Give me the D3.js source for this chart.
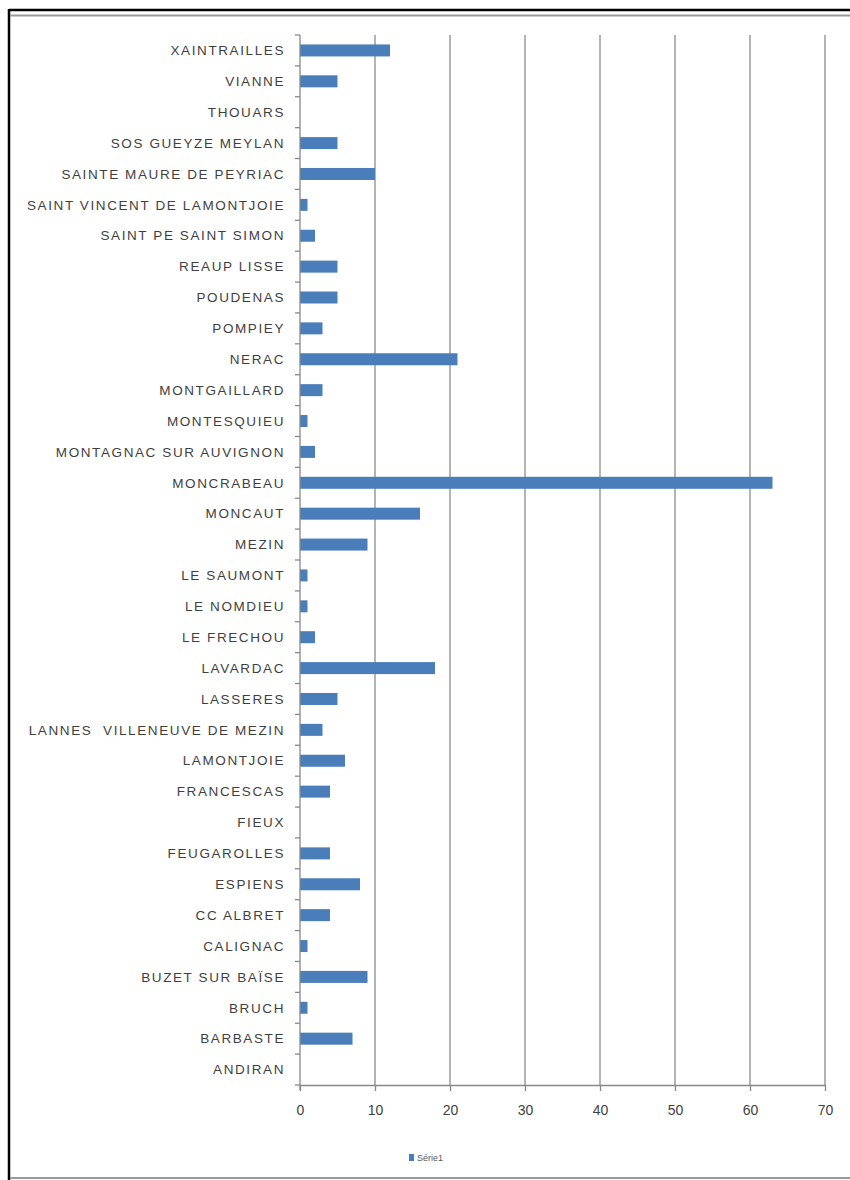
<!DOCTYPE html>
<html>
<head>
<meta charset="utf-8">
<script src="https://cdn.jsdelivr.net/npm/d3@7"></script>
<style>
  html, body { margin: 0; padding: 0; background: #fff; }
  svg { display: block; }
</style>
</head>
<body>
<script>
const categories = [
  "XAINTRAILLES", "VIANNE", "THOUARS", "SOS GUEYZE MEYLAN", "SAINTE MAURE DE PEYRIAC",
  "SAINT VINCENT DE LAMONTJOIE", "SAINT PE SAINT SIMON", "REAUP LISSE", "POUDENAS", "POMPIEY",
  "NERAC", "MONTGAILLARD", "MONTESQUIEU", "MONTAGNAC SUR AUVIGNON", "MONCRABEAU",
  "MONCAUT", "MEZIN", "LE SAUMONT", "LE NOMDIEU", "LE FRECHOU",
  "LAVARDAC", "LASSERES", "LANNES  VILLENEUVE DE MEZIN", "LAMONTJOIE", "FRANCESCAS",
  "FIEUX", "FEUGAROLLES", "ESPIENS", "CC ALBRET", "CALIGNAC",
  "BUZET SUR BAÏSE", "BRUCH", "BARBASTE", "ANDIRAN"
];
const values = [
  12, 5, 0, 5, 10,
  1, 2, 5, 5, 3,
  21, 3, 1, 2, 63,
  16, 9, 1, 1, 2,
  18, 5, 3, 6, 4,
  0, 4, 8, 4, 1,
  9, 1, 7, 0
];
const xTicks = [0, 10, 20, 30, 40, 50, 60, 70];
const seriesName = "Série1";

(function () {
const W = 850, H = 1180;
const svg = d3.select("body").append("svg").attr("width", W).attr("height", H);

// outer frame
svg.append("line").attr("x1", 9).attr("x2", W).attr("y1", 10).attr("y2", 10).attr("stroke", "#000").attr("stroke-width", 2.5);
svg.append("line").attr("x1", 9).attr("x2", 9).attr("y1", 9).attr("y2", H).attr("stroke", "#000").attr("stroke-width", 2.5);
svg.append("line").attr("x1", 10).attr("x2", W).attr("y1", 15.5).attr("y2", 15.5).attr("stroke", "#9a9a9a").attr("stroke-width", 2);
svg.append("line").attr("x1", 10).attr("x2", W).attr("y1", 1178).attr("y2", 1178).attr("stroke", "#9a9a9a").attr("stroke-width", 2);

const pLeft = 300, pRight = 825, pTop = 35, pBottom = 1085;
const x = d3.scaleLinear().domain([0, 70]).range([pLeft, pRight]);
const yb = d3.scaleBand().domain(categories).range([pTop, pBottom]);

// gridlines
svg.append("g").selectAll("line").data(xTicks.filter(d => d > 0)).join("line")
  .attr("x1", d => x(d)).attr("x2", d => x(d))
  .attr("y1", pTop).attr("y2", pBottom)
  .attr("stroke", "#8c8c8c").attr("stroke-width", 1.3);

// bars
svg.append("g").selectAll("rect").data(categories).join("rect")
  .attr("x", x(0))
  .attr("y", d => yb(d) + yb.bandwidth() / 2 - 6)
  .attr("width", (d, i) => x(values[i]) - x(0))
  .attr("height", 12)
  .attr("fill", "#4a7ebb");

// y axis
const yAxis = svg.append("g").attr("transform", `translate(${pLeft},0)`);
yAxis.append("line").attr("x1", 0).attr("x2", 0).attr("y1", pTop).attr("y2", pBottom + 5).attr("stroke", "#888").attr("stroke-width", 1.3);
const boundaries = categories.map(c => yb(c)).concat([pBottom]);
yAxis.selectAll("line.tk").data(boundaries).join("line").attr("class", "tk")
  .attr("x1", -5).attr("x2", 0).attr("y1", d => d).attr("y2", d => d)
  .attr("stroke", "#888").attr("stroke-width", 1.3);
yAxis.selectAll("text").data(categories).join("text")
  .attr("x", -15)
  .attr("y", d => yb(d) + yb.bandwidth() / 2)
  .attr("dy", "0.35em")
  .attr("text-anchor", "end")
  .attr("font-family", "Liberation Sans, Arial, sans-serif")
  .attr("font-size", 13.5)
  .attr("letter-spacing", 1.6)
  .style("white-space", "pre")
  .attr("fill", "#3f3f3f")
  .text(d => d);

// x axis
const xAxis = d3.axisBottom(x).tickValues(xTicks).tickSize(6).tickSizeOuter(0);
const gx = svg.append("g").attr("transform", `translate(0,${pBottom})`).call(xAxis);
gx.select(".domain").attr("stroke", "#888").attr("stroke-width", 1.3);
gx.selectAll(".tick line").attr("stroke", "#888").attr("stroke-width", 1.3);
gx.selectAll(".tick text")
  .attr("y", 20)
  .attr("font-family", "Liberation Sans, Arial, sans-serif")
  .attr("font-size", 14)
  .attr("fill", "#3f3f3f");

// legend
const lg = svg.append("g").attr("transform", "translate(409,1158)");
lg.append("rect").attr("x", 0).attr("y", -4).attr("width", 5).attr("height", 7).attr("fill", "#4a7ebb");
lg.append("text").attr("x", 8).attr("y", 0).attr("dy", "0.35em")
  .attr("font-family", "Liberation Sans, Arial, sans-serif")
  .attr("font-size", 9).attr("fill", "#595959").text(seriesName);
})();
</script>
</body>
</html>
